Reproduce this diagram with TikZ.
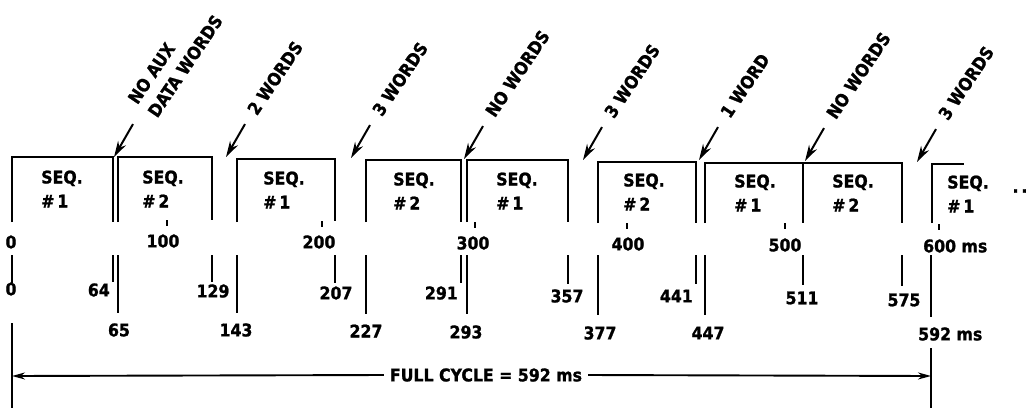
\documentclass[tikz,border=0pt]{standalone}
\usepackage{fontspec}
\setmainfont{DejaVu Sans Condensed}[BoldFont={DejaVu Sans Condensed Bold},BoldFeatures={FakeBold=1.2}]
\usetikzlibrary{arrows.meta,positioning}

\begin{document}
\begin{tikzpicture}[
  x=1pt,y=-1pt,
  every node/.style={font=\bfseries\fontsize{17.5}{19}\selectfont,inner sep=1pt},
  pulse/.style={line width=2.4pt},
  timeline/.style={line width=2.4pt},
  tickmark/.style={line width=1.8pt},
  seq/.style={align=left},
  note/.style={rotate=56,anchor=west,align=left},
  pointer/.style={-{Stealth[length=16pt,width=9pt]},line width=2pt},
  span/.style={-{Stealth[length=13pt,width=7pt]},line width=1.9pt}]
  \path[use as bounding box] (0,0) rectangle (1033,408);

  % Sequence frames: open at the bottom
  \draw[pulse] (12,222) |- (113,157) -- (113,222);
  \draw[pulse] (118,222) |- (212,157) -- (212,220);
  \draw[pulse] (237,222) |- (335,159) -- (335,221);
  \draw[pulse] (366,222) |- (461,160) -- (461,222);
  \draw[pulse] (467,222) |- (568,160) -- (568,222);
  \draw[pulse] (598,223) |- (696,162) -- (696,223);
  \draw[pulse] (705,223) |- (803,163) -- (803,223);
  \draw[pulse] (803,163) -- (902,163) -- (902,223);
  \draw[pulse] (932,223) |- (964,164);
  \node[seq] (s1) at (62,189) {SEQ.\\[5pt]\#\,1};
  \node[seq] (s2) at (163,189) {SEQ.\\[5pt]\#\,2};
  \node[seq] (s3) at (284,190) {SEQ.\\[5pt]\#\,1};
  \node[seq] (s4) at (414,191) {SEQ.\\[5pt]\#\,2};
  \node[seq] (s5) at (517,191) {SEQ.\\[5pt]\#\,1};
  \node[seq] (s6) at (644,192) {SEQ.\\[5pt]\#\,2};
  \node[seq] (s7) at (755,193) {SEQ.\\[5pt]\#\,1};
  \node[seq] (s8) at (853,193) {SEQ.\\[5pt]\#\,2};
  \node[seq] (s9) at (968,194) {SEQ.\\[5pt]\#\,1};
  \node (more) at (1020,191) {.\,.};

  % Auxiliary data words between frames
  \coordinate (p1) at (114,157);
  \coordinate (p2) at (226,157);
  \coordinate (p3) at (351,158);
  \coordinate (p4) at (464,159);
  \coordinate (p5) at (583,160);
  \coordinate (p6) at (699,160);
  \coordinate (p7) at (805,161);
  \coordinate (p8) at (917,162);
  \path (p1) ++(-60:38) coordinate (q1) ++(-60:17) node[note] (w1) {NO AUX\\[5pt]DATA WORDS};
  \path (p2) ++(-60:38) coordinate (q2) ++(-60:12) node[note] (w2) {2 WORDS};
  \path (p3) ++(-60:38) coordinate (q3) ++(-60:12) node[note] (w3) {3 WORDS};
  \path (p4) ++(-60:38) coordinate (q4) ++(-60:12) node[note] (w4) {NO WORDS};
  \path (p5) ++(-60:38) coordinate (q5) ++(-60:12) node[note] (w5) {3 WORDS};
  \path (p6) ++(-60:38) coordinate (q6) ++(-60:12) node[note] (w6) {1 WORD};
  \path (p7) ++(-60:38) coordinate (q7) ++(-60:12) node[note] (w7) {NO WORDS};
  \path (p8) ++(-60:38) coordinate (q8) ++(-60:12) node[note] (w8) {3 WORDS};
  \draw[pointer] (q1) -- (p1);
  \draw[pointer] (q2) -- (p2);
  \draw[pointer] (q3) -- (p3);
  \draw[pointer] (q4) -- (p4);
  \draw[pointer] (q5) -- (p5);
  \draw[pointer] (q6) -- (p6);
  \draw[pointer] (q7) -- (p7);
  \draw[pointer] (q8) -- (p8);

  % Millisecond scale
  \draw[tickmark] (167,220) -- (167,226);
  \draw[tickmark] (322,221) -- (322,227);
  \draw[tickmark] (475,222) -- (475,228);
  \draw[tickmark] (627,223) -- (627,229);
  \draw[tickmark] (785,223) -- (785,229);
  \draw[tickmark] (939,224) -- (939,230);
  \node (m0) at (11,242) {0};
  \node (m100) at (163,241) {100};
  \node (m200) at (319,242) {200};
  \node (m300) at (473,243) {300};
  \node (m400) at (628,244) {400};
  \node (m500) at (785,245) {500};
  \node[anchor=west] (m600) at (922,246) {600 ms};

  % Frame end times (short lines) and start times (long lines)
  \draw[timeline] (12,255) -- (12,283);
  \draw[timeline] (113,255) -- (113,282);
  \draw[timeline] (212,255) -- (212,282);
  \draw[timeline] (335,255) -- (335,283);
  \draw[timeline] (461,255) -- (461,283);
  \draw[timeline] (568,255) -- (568,284);
  \draw[timeline] (696,255) -- (696,284);
  \draw[timeline] (803,255) -- (803,285);
  \draw[timeline] (902,255) -- (902,286);
  \draw[timeline] (118,255) -- (118,313);
  \draw[timeline] (237,255) -- (237,313);
  \draw[timeline] (366,255) -- (366,314);
  \draw[timeline] (467,255) -- (467,314);
  \draw[timeline] (598,255) -- (598,315);
  \draw[timeline] (705,255) -- (705,315);
  \draw[timeline] (931,255) -- (931,317);
  \node (e0) at (11,289) {0};
  \node[anchor=east] (e64) at (111,290) {64};
  \node (e129) at (213,291) {129};
  \node (e207) at (336,293) {207};
  \node[anchor=east] (e291) at (459,293) {291};
  \node (e357) at (567,296) {357};
  \node[anchor=east] (e441) at (694,296) {441};
  \node (e511) at (802,298) {511};
  \node (e575) at (904,300) {575};
  \node (b65) at (119,330) {65};
  \node (b143) at (236,330) {143};
  \node (b227) at (366,331) {227};
  \node (b293) at (466,332) {293};
  \node (b377) at (600,333) {377};
  \node (b447) at (708,333) {447};
  \node[anchor=west] (b592) at (917,334) {592 ms};

  % Full cycle
  \draw[timeline] (12,323) -- (12,408);
  \draw[timeline] (931,348) -- (931,408);
  \coordinate (c0) at (12,376);
  \coordinate (c1) at (931,376);
  \node (cycle) at (486,375) {FULL CYCLE = 592 ms};
  \draw[span] ([xshift=-5pt]cycle.west) -- (c0);
  \draw[span] ([xshift=5pt]cycle.east) -- (c1);
\end{tikzpicture}
\end{document}
